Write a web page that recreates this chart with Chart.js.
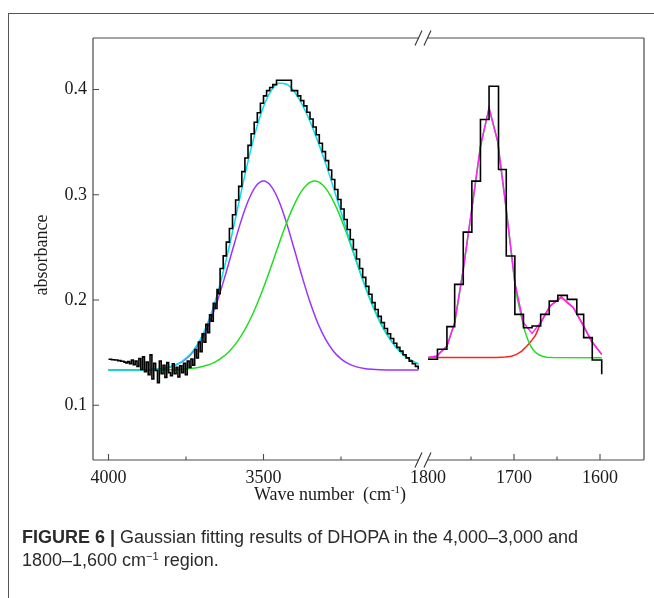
<!DOCTYPE html>
<html><head><meta charset="utf-8">
<script src="https://cdn.jsdelivr.net/npm/chart.js@4.4.0/dist/chart.umd.min.js"></script>
<style>
html,body{margin:0;padding:0;background:#fff;}
#wrap{position:relative;width:654px;height:598px;overflow:hidden;background:#fff;}
#frame{position:absolute;left:8px;top:13px;width:700px;height:700px;border-top:1px solid #555;border-left:1px solid #555;}
canvas{position:absolute;left:0;top:0;}
#cap{position:absolute;left:22px;top:526px;font:18px "Liberation Sans",Arial,sans-serif;line-height:23px;color:#2b2b2b;white-space:nowrap;}
#cap sup{font-size:11px;line-height:0;vertical-align:6px;}
</style></head><body>
<div id="wrap"><div id="frame"></div><canvas id="c" width="654" height="598"></canvas>
<div id="cap"><b>FIGURE 6 |</b> Gaussian fitting results of DHOPA in the 4,000–3,000 and<br>1800–1,600 cm<sup>−1</sup> region.</div></div>
<script>
// ---------- axis ticks ----------
const yTicks = [0.1, 0.2, 0.3, 0.4];
const xMajorTicks = [4000, 3500, 1800, 1700, 1600];
const xMinorTicks = [3750, 3250, 1750, 1650];

// ---------- 4000-3000 cm-1 region ----------
const fitWavenumbers = [4000,3975,3950,3925,3900,3875,3850,3825,3800,3775,3750,3725,3700,3675,3650,3625,3600,3575,3550,3525,3500,3475,3450,3425,3400,3375,3350,3325,3300,3275,3250,3225,3200,3175,3150,3125,3100,3075,3050,3025,3000];
const cyanFit = [.1335,.1335,.1335,.1335,.1336,.1338,.1343,.1350,.1366,.1396,.1447,.1526,.1648,.1819,.2046,.2326,.2647,.2986,.3318,.3609,.3838,.3990,.4059,.4050,.3977,.3856,.3697,.3510,.3301,.3075,.2839,.2599,.2366,.2150,.1957,.1793,.1661,.1558,.1483,.1430,.1392];
const purpleBand = [.1335,.1335,.1335,.1335,.1336,.1338,.1342,.1350,.1365,.1393,.1441,.1516,.1628,.1782,.1981,.2218,.2475,.2726,.2938,.3080,.3130,.3080,.2938,.2726,.2475,.2218,.1981,.1782,.1628,.1516,.1441,.1393,.1365,.1350,.1342,.1338,.1336,.1335,.1335,.1335,.1335];
const greenBandWavenumbers = [4000,3985,3960,3935,3910,3885,3860,3835,3810,3785,3760,3735,3710,3685,3660,3635,3610,3585,3560,3535,3510,3485,3460,3435,3410,3385,3360,3335,3310,3285,3260,3235,3210,3185,3160,3135,3110,3085,3060,3035,3010,3000];
const greenBand = [.1335,.1335,.1335,.1335,.1335,.1335,.1336,.1336,.1337,.1338,.1342,.1349,.1360,.1378,.1406,.1450,.1514,.1602,.1718,.1865,.2040,.2238,.2449,.2658,.2847,.2998,.3096,.3130,.3096,.2998,.2847,.2658,.2449,.2238,.2040,.1865,.1718,.1602,.1514,.1450,.1406,.1393];
const spectrumLeftWavenumbers = [4000,3990,3980,3970,3960,3950,3944,3938,3932,3926,3920,3914,3908,3902,3896,3890,3884,3878,3872,3866,3860,3854,3848,3842,3836,3830,3824,3818,3812,3806,3800,3794,3788,3782,3776,3770,3764,3758,3752,3746,3740,3734,3728,3722,3716,3710,3704,3698,3692,3686,3680,3674,3668,3662,3656,3650,3646,3640,3630,3620,3610,3600,3590,3580,3570,3560,3550,3540,3530,3520,3510,3500,3490,3480,3470,3458,3410,3390,3380,3370,3360,3350,3340,3330,3320,3310,3300,3290,3280,3270,3260,3250,3240,3230,3220,3210,3200,3190,3180,3170,3160,3150,3140,3130,3120,3110,3100,3090,3080,3070,3060,3050,3040,3030,3020,3010,3001];
const spectrumLeft = [.1437,.1433,.1430,.1424,.1418,.1410,.1403,.1415,.1395,.1430,.1385,.1420,.1370,.1445,.1340,.1460,.1320,.1410,.1290,.1480,.1250,.1400,.1330,.1215,.1420,.1300,.1380,.1265,.1405,.1310,.1280,.1395,.1300,.1360,.1270,.1375,.1310,.1400,.1290,.1420,.1360,.1440,.1380,.1530,.1450,.1600,.1510,.1680,.1600,.1770,.1690,.1860,.1800,.1970,.1920,.2100,.2060,.2300,.2420,.2550,.2680,.2810,.2950,.3080,.3220,.3350,.3470,.3580,.3690,.3780,.3870,.3940,.3990,.4020,.4047,.4088,.3990,.3940,.3895,.3845,.3785,.3720,.3645,.3570,.3490,.3410,.3325,.3235,.3145,.3050,.2955,.2865,.2765,.2670,.2575,.2480,.2390,.2300,.2215,.2130,.2055,.1975,.1910,.1845,.1785,.1730,.1680,.1635,.1590,.1550,.1515,.1480,.1450,.1420,.1395,.1370,.1342];

// ---------- 1800-1600 cm-1 region ----------
const spectrumRightWavenumbers = [1800,1789,1778,1769,1759,1749,1739,1729,1718,1709,1699,1689,1679,1669,1659,1649,1638,1627,1619,1609,1598];
const spectrumRight = [.1437,.1532,.1747,.2149,.2645,.3130,.3715,.4032,.3240,.2418,.1864,.1737,.1753,.1864,.1990,.2044,.2006,.1864,.1643,.1430,.1294];
const fitRightWavenumbers = [1800,1790,1778,1769,1759,1747,1739,1729,1719,1709,1699,1689,1679,1668,1658,1645,1631,1619,1610,1598];
const magentaFit = [.1453,.1468,.1563,.1785,.2291,.2987,.3462,.3826,.3509,.2861,.2165,.1785,.1683,.1800,.1943,.2028,.1927,.1753,.1610,.1484];
const greenRightWavenumbers = [1800,1790,1778,1769,1759,1747,1739,1729,1719,1709,1699,1696,1693,1690,1687,1684,1681,1678,1675,1671,1667,1662,1655,1598];
const greenRight = [.1450,.1465,.1560,.1782,.2288,.2984,.3459,.3823,.3506,.2858,.2160,.2010,.1900,.1790,.1695,.1625,.1570,.1530,.1502,.1480,.1466,.1457,.1453,.1452];
const redRightWavenumbers = [1800,1740,1720,1710,1703,1697,1691,1685,1680,1675,1668,1658,1645,1631,1619,1610,1598];
const redRight = [.1453,.1453,.1454,.1458,.1466,.1484,.1515,.1563,.1610,.1665,.1800,.1943,.2028,.1927,.1753,.1610,.1484];

// ---------- broken x axis: two linear segments on one scale ----------
const LEFT_START = 4050, LEFT_K = 0.31;      // 4050..~3000 segment
const RIGHT_ORIGIN = 335, RIGHT_K = 0.86;    // 1800..~1549 segment
function toU(w){ return w >= 2500 ? (LEFT_START - w) * LEFT_K : RIGHT_ORIGIN + (1800 - w) * RIGHT_K; }
const BREAK_A = 325.5, BREAK_B = 334.5;
function pts(ws, vs){ return ws.map((w, i) => ({x: toU(w), y: vs[i]})); }

const SERIF = "'Liberation Serif', 'Times New Roman', serif";
const tickDefs = xMajorTicks.map(w => ({value: toU(w), label: String(w)}))
  .concat(xMinorTicks.map(w => ({value: toU(w), label: ''})))
  .sort((a, b) => a.value - b.value);

const deco = {
  id: 'deco',
  afterDraw(chart){
    const {ctx, chartArea: a, scales: {x, y}} = chart;
    const b1 = x.getPixelForValue(BREAK_A), b2 = x.getPixelForValue(BREAK_B);
    ctx.save();
    ctx.strokeStyle = '#4a4a4a'; ctx.lineWidth = 1.2;
    ctx.beginPath();
    ctx.moveTo(a.left, a.top); ctx.lineTo(a.left, a.bottom);
    ctx.moveTo(a.right, a.top); ctx.lineTo(a.right, a.bottom);
    [a.top, a.bottom].forEach(yy => {
      ctx.moveTo(a.left, yy); ctx.lineTo(b1, yy);
      ctx.moveTo(b2, yy); ctx.lineTo(a.right, yy);
    });
    ctx.stroke();
    ctx.strokeStyle = '#333'; ctx.lineWidth = 1.1;
    ctx.beginPath();
    [a.top, a.bottom].forEach(yy => {
      [b1, b2].forEach(bx => { ctx.moveTo(bx - 3.5, yy + 7.5); ctx.lineTo(bx + 3.5, yy - 7.5); });
    });
    ctx.stroke();
    ctx.strokeStyle = '#4a4a4a'; ctx.lineWidth = 1.1;
    ctx.beginPath();
    yTicks.forEach(v => { const p = y.getPixelForValue(v); ctx.moveTo(a.left, p); ctx.lineTo(a.left + 6, p); });
    xMajorTicks.forEach(w => { if (w === 1800) return; const p = x.getPixelForValue(toU(w)); ctx.moveTo(p, a.bottom); ctx.lineTo(p, a.bottom - 6); });
    xMinorTicks.forEach(w => { const p = x.getPixelForValue(toU(w)); ctx.moveTo(p, a.bottom); ctx.lineTo(p, a.bottom - 3.5); });
    ctx.stroke();
    // axis titles
    ctx.fillStyle = '#1a1a1a';
    ctx.font = '18px ' + SERIF;
    ctx.textBaseline = 'alphabetic';
    const t1 = 'Wave number  (cm', t2 = '-1', t3 = ')';
    const w1 = ctx.measureText(t1).width, w3 = ctx.measureText(t3).width;
    ctx.font = '11px ' + SERIF; const w2 = ctx.measureText(t2).width;
    let sx = 330 - (w1 + w2 + w3) / 2;
    ctx.font = '18px ' + SERIF; ctx.textAlign = 'left';
    ctx.fillText(t1, sx, 500);
    ctx.font = '11px ' + SERIF; ctx.fillText(t2, sx + w1, 493);
    ctx.font = '18px ' + SERIF; ctx.fillText(t3, sx + w1 + w2, 500);
    ctx.save();
    ctx.translate(42, 255); ctx.rotate(-Math.PI / 2);
    ctx.textAlign = 'center'; ctx.textBaseline = 'middle';
    ctx.fillText('absorbance', 0, 0);
    ctx.restore();
    ctx.restore();
  }
};

function ds(data, color, extra){
  return Object.assign({data, borderColor: color, backgroundColor: color, borderWidth: 1.5,
    pointRadius: 0, fill: false, tension: 0}, extra || {});
}

new Chart(document.getElementById('c'), {
  type: 'line',
  data: { datasets: [
    ds(pts(spectrumRightWavenumbers, spectrumRight), '#000000', {stepped: 'before', borderWidth: 1.6}),
    ds(pts(fitRightWavenumbers, magentaFit), '#ff22ff'),
    ds(pts(greenRightWavenumbers, greenRight), '#22dd22'),
    ds(pts(redRightWavenumbers, redRight), '#ff2020'),
    ds(pts(spectrumLeftWavenumbers, spectrumLeft), '#000000', {stepped: 'before', borderWidth: 1.6}),
    ds(pts(fitWavenumbers, cyanFit), '#00e0ee', {cubicInterpolationMode: 'monotone'}),
    ds(pts(greenBandWavenumbers, greenBand), '#22dd22', {cubicInterpolationMode: 'monotone'}),
    ds(pts(fitWavenumbers, purpleBand), '#9933ff', {cubicInterpolationMode: 'monotone'})
  ]},
  options: {
    responsive: false, animation: false, devicePixelRatio: 1, events: [],
    layout: {padding: {left: 0, right: 10, top: 38, bottom: 0}},
    plugins: {legend: {display: false}, tooltip: {enabled: false}},
    scales: {
      x: {
        type: 'linear', min: 0, max: 551,
        grid: {display: false, drawTicks: false}, border: {display: false},
        afterBuildTicks: s => { s.ticks = tickDefs.map(t => ({value: t.value})); },
        afterFit: s => { s.height = 138; },
        ticks: {autoSkip: false, maxRotation: 0, padding: 7, color: '#1a1a1a',
          font: {family: SERIF, size: 18},
          callback: (v) => { const t = tickDefs.find(d => Math.abs(d.value - v) < 0.01); return t ? t.label : ''; }}
      },
      y: {
        type: 'linear', min: 0.048, max: 0.449,
        grid: {display: false, drawTicks: false}, border: {display: false},
        afterBuildTicks: s => { s.ticks = yTicks.map(v => ({value: v})); },
        afterFit: s => { s.width = 93; },
        ticks: {padding: 6, color: '#1a1a1a', font: {family: SERIF, size: 18},
          callback: v => v.toFixed(1)}
      }
    }
  },
  plugins: [deco]
});
</script>
</body></html>
